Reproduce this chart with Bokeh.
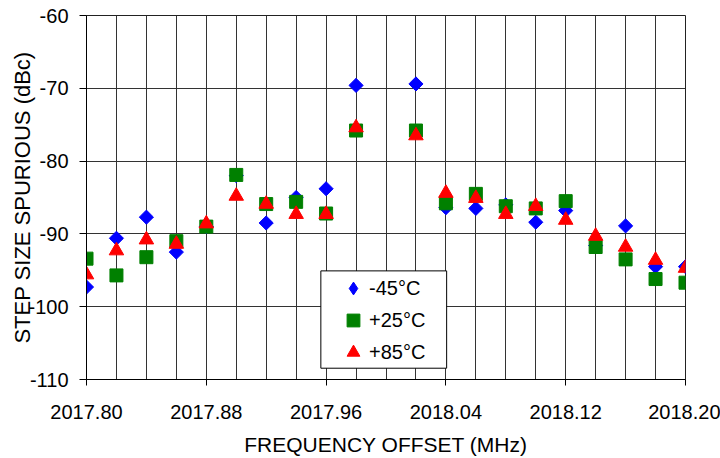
from bokeh.plotting import figure
from bokeh.models import (Range1d, FixedTicker, PrintfTickFormatter, Legend, LegendItem,
                          BoxAnnotation, ColumnDataSource)
from bokeh.embed import file_html
from bokeh.resources import INLINE
import math

# ---- data ----
freq = [2017.80, 2017.82, 2017.84, 2017.86, 2017.88, 2017.90, 2017.92, 2017.94, 2017.96, 2017.98,
        2018.02, 2018.04, 2018.06, 2018.08, 2018.10, 2018.12, 2018.14, 2018.16, 2018.18, 2018.20]
minus45 = [-97.3, -90.6, -87.7, -92.5, -89.0, -82.0, -88.5, -85.0, -83.8, -69.6,
           -69.4, -86.4, -86.5, -86.0, -88.4, -86.8, -91.6, -88.9, -94.5, -94.5]
plus25 = [-93.4, -95.7, -93.2, -91.0, -89.0, -81.9, -85.9, -85.6, -87.2, -75.8,
          -75.8, -85.8, -84.5, -86.2, -86.5, -85.5, -91.8, -93.5, -96.2, -96.7]
plus85 = [-95.6, -92.3, -90.8, -91.4, -88.6, -84.8, -85.9, -87.3, -87.3, -75.4,
          -76.5, -84.4, -85.1, -87.3, -86.2, -88.1, -90.3, -91.8, -93.6, -94.7]

series_labels = ["-45°C", "+25°C", "+85°C"]
x_ticks = [2017.80, 2017.88, 2017.96, 2018.04, 2018.12, 2018.20]
x_grid = [2017.80, 2017.82, 2017.84, 2017.86, 2017.88, 2017.90, 2017.92, 2017.94, 2017.96, 2017.98,
          2018.00, 2018.02, 2018.04, 2018.06, 2018.08, 2018.10, 2018.12, 2018.14, 2018.16, 2018.18, 2018.20]
y_ticks = [-110, -100, -90, -80, -70, -60]

FONT = "Liberation Sans"

p = figure(width=720, height=458, output_backend="svg", toolbar_location=None,
           x_range=Range1d(2017.80, 2018.20), y_range=Range1d(-110, -60),
           min_border_left=86, min_border_right=35, min_border_top=15, min_border_bottom=79)

p.background_fill_color = "white"
p.border_fill_color = "white"
p.outline_line_color = "#222222"
p.outline_line_width = 1

# grid
p.xgrid.ticker = FixedTicker(ticks=x_grid, minor_ticks=[])
p.ygrid.ticker = FixedTicker(ticks=y_ticks, minor_ticks=[])
for g in (p.xgrid, p.ygrid):
    g.grid_line_color = "#333333"
    g.grid_line_width = 1

# axes
p.xaxis.ticker = FixedTicker(ticks=x_ticks, minor_ticks=[])
p.xaxis.formatter = PrintfTickFormatter(format="%.2f")
p.yaxis.ticker = FixedTicker(ticks=y_ticks, minor_ticks=[])
p.yaxis.formatter = PrintfTickFormatter(format="%d")
p.xaxis.axis_label = "FREQUENCY OFFSET (MHz)"
p.yaxis.axis_label = "STEP SIZE SPURIOUS (dBc)"
for ax in (p.xaxis, p.yaxis):
    ax.axis_line_color = "black"
    ax.major_tick_line_color = "black"
    ax.major_tick_in = 0
    ax.minor_tick_line_color = None
    ax.major_label_text_font = FONT
    ax.major_label_text_font_size = "20px"
    ax.major_label_text_color = "black"
    ax.axis_label_text_font = FONT
    ax.axis_label_text_font_style = "normal"
    ax.axis_label_text_color = "black"
p.xaxis.major_tick_out = 6
p.yaxis.major_tick_out = 7
p.xaxis.major_label_standoff = 19
p.yaxis.major_label_standoff = 11
p.xaxis.axis_label_text_font_size = "21px"
p.yaxis.axis_label_text_font_size = "22px"
p.xaxis.axis_label_standoff = 11
p.yaxis.axis_label_standoff = -10

src = ColumnDataSource(dict(x=freq, a=minus45, b=plus25, c=plus85))

r1 = p.scatter("x", "a", source=src, marker="square", size=10, angle=math.pi / 4,
               fill_color="#0000FF", line_color="#0000FF")
r2 = p.scatter("x", "b", source=src, marker="square", size=13,
               fill_color="#008000", line_color="#008000")
r3 = p.scatter("x", "c", source=src, marker="triangle", size=14.5,
               fill_color="#FF0000", line_color="#FF0000")

# legend swatch for the diamond series (legend glyphs ignore marker angle)
r1_key = p.scatter("x", "a", source=src, marker="diamond", size=14,
                   fill_color="#0000FF", line_color="#0000FF", visible=False)

# legend frame (white box with border)
box = BoxAnnotation(left=2017.9565, right=2018.0405, top=-95.08, bottom=-108.45,
                    fill_color="white", fill_alpha=1.0, line_color="black", line_width=1,
                    line_alpha=1.0)
p.add_layout(box)

legend = Legend(items=[LegendItem(label=series_labels[0], renderers=[r1_key]),
                       LegendItem(label=series_labels[1], renderers=[r2]),
                       LegendItem(label=series_labels[2], renderers=[r3])],
                location=(251, 11), orientation="vertical",
                glyph_width=32, glyph_height=32, label_height=32, spacing=0, padding=0,
                margin=0, label_standoff=-3, inactive_fill_alpha=0.0,
                label_text_font=FONT, label_text_font_size="20px", label_text_color="black",
                border_line_color=None, background_fill_alpha=0.0)
p.add_layout(legend)

open("out.html", "w").write(file_html(p, INLINE))
